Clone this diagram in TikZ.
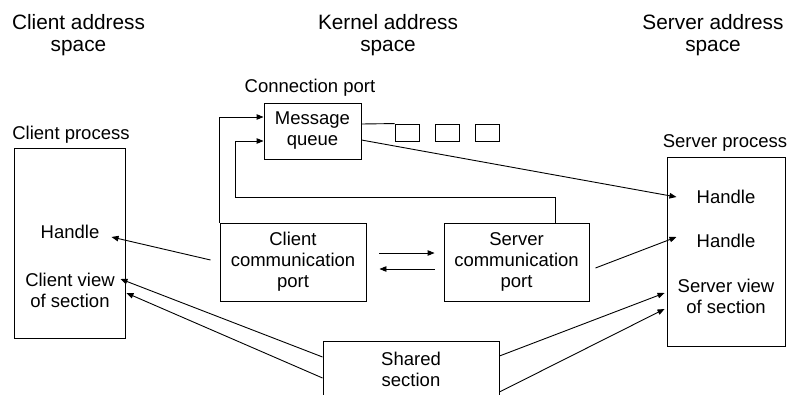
\documentclass[tikz,border=0pt]{standalone}
\usepackage{fontspec}
\setmainfont{Liberation Sans}
\usetikzlibrary{arrows.meta}
\begin{document}
\begin{tikzpicture}[x=1pt,y=-1pt,
  every node/.style={font=\fontsize{18.5}{21}\selectfont, align=center},
  heading/.style={inner sep=0pt, font=\fontsize{20.8}{22}\selectfont},
  box/.style={draw, line width=0.9pt, inner sep=0pt},
  lbl/.style={inner sep=0pt},
  qcell/.style={draw, line width=0.9pt, minimum width=24pt, minimum height=17pt, inner sep=0pt},
  link/.style={line width=0.9pt},
  arr/.style={link, -{Triangle[length=7pt,width=5.5pt]}}]
\clip (0,0) rectangle (789,394);

% column headings
\node[heading] (hclient) at (78.5,35.5) {Client address\\space};
\node[heading] (hkernel) at (388,35.5) {Kernel address\\space};
\node[heading] (hserver) at (713,35.5) {Server address\\space};

% client process
\node[box, minimum width=111pt, minimum height=190pt] (cproc) at (69.5,243) {};
\node[lbl, anchor=base] (cproclbl) at (71,139) {Client process};
\node[lbl] (chandle) at (70,232) {Handle};
\node[lbl] (cview) at (70,290) {Client view\\of section};

% server process
\node[box, minimum width=118pt, minimum height=189pt] (sproc) at (726,251.5) {};
\node[lbl, anchor=base] (sproclbl) at (725,147) {Server process};
\node[lbl] (shandleA) at (726,197) {Handle};
\node[lbl] (shandleB) at (726,241) {Handle};
\node[lbl] (sview) at (726,296) {Server view\\of section};

% kernel objects
\node[lbl, anchor=base] (cportlbl) at (310,92) {Connection port};
\node[box, minimum width=97pt, minimum height=56pt] (mq) at (312.5,131) {Message\\queue};
\node[qcell] (q1) at (407,132.5) {};
\node[qcell] (q2) at (447,132.5) {};
\node[qcell] (q3) at (487,132.5) {};
\node[box, minimum width=146pt, minimum height=78pt] (ccp) at (293,262) {Client\\communication\\port};
\node[box, minimum width=145pt, minimum height=78pt] (scp) at (516.5,262) {Server\\communication\\port};
\node[box, minimum width=176pt, minimum height=56pt] (shared) at (411,369) {Shared\\section};

% message queue entries
\draw[link] ([yshift=7pt]mq.east) -- (q1.north west);

% ports feeding the message queue
\draw[arr] (ccp.north west) |- ([yshift=14pt]mq.west);
\draw[arr] ([xshift=38.5pt]scp.north) |- (235,197) |- ([yshift=-10pt]mq.west);

% handles
\draw[arr] ([yshift=-9pt]mq.east) -- ([xshift=-20pt]shandleA.west);
\draw[arr] ([xshift=-9pt,yshift=2pt]ccp.west) -- ([xshift=12pt,yshift=-5pt]chandle.east);
\draw[arr] ([xshift=6pt,yshift=-6pt]scp.east) -- ([xshift=-20pt,yshift=4pt]shandleB.west);

% traffic between the communication ports
\draw[arr] ([xshift=13pt,yshift=9pt]ccp.east) -- ([xshift=-9pt,yshift=9pt]scp.west);
\draw[arr] ([xshift=-9pt,yshift=-7pt]scp.west) -- ([xshift=13pt,yshift=-7pt]ccp.east);

% shared section views
\draw[arr] ([yshift=13pt]shared.east) -- ([xshift=-2pt,yshift=-41.5pt]sproc.west);
\draw[arr] ([yshift=-23pt]shared.east) -- ([xshift=-2pt,yshift=-57.5pt]sproc.west);
\draw[arr] ([yshift=12pt]shared.west) -- ([xshift=-5pt,yshift=-36pt]cproc.east);
\draw[arr] ([yshift=-9pt]shared.west) -- ([xshift=1pt,yshift=-50pt]cproc.east);
\end{tikzpicture}
\end{document}
